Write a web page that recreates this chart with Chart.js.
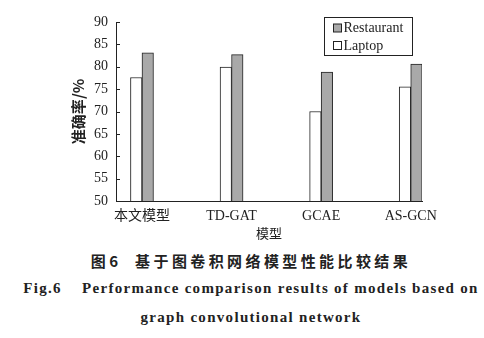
<!DOCTYPE html>
<html>
<head>
<meta charset="utf-8">
<script src="https://cdn.jsdelivr.net/npm/chart.js@4"></script>
<style>
  body { margin: 0; background: #fff; width: 484px; height: 338px; overflow: hidden; }
  #wrap { position: relative; width: 484px; height: 245px; }
  .cap { position: absolute; left: 9px; width: 484px; text-align: center; color: #222; white-space: pre; }
  #cap1 { top: 250px; font: bold 15px "Noto Sans CJK SC"; letter-spacing: 3.4px; }
  #cap2 { top: 280px; font: bold 15px "Liberation Serif"; letter-spacing: 1.3px; }
  #cap3 { top: 309px; font: bold 15px "Liberation Serif"; letter-spacing: 1.3px; }
</style>
</head>
<body>
<div id="wrap"><canvas id="chart"></canvas></div>
<div class="cap" id="cap1">图6  基于图卷积网络模型性能比较结果</div>
<div class="cap" id="cap2">Fig.6    Performance comparison results of models based on</div>
<div class="cap" id="cap3">graph convolutional network</div>
<script>
const categories = ["本文模型", "TD-GAT", "GCAE", "AS-GCN"];
const laptop = [77.6, 79.9, 70.0, 75.5];
const restaurant = [83.1, 82.7, 78.8, 80.6];
const yTicks = [50, 55, 60, 65, 70, 75, 80, 85, 90];

const serif = "Liberation Serif";

// ticks on the y axis point inwards
const innerTicks = {
  id: "innerTicks",
  afterDraw(chart) {
    const ctx = chart.ctx;
    const y = chart.scales.y;
    ctx.save();
    ctx.strokeStyle = "#222";
    ctx.lineWidth = 1;
    yTicks.forEach(v => {
      const py = Math.round(y.getPixelForValue(v)) + 0.5;
      ctx.beginPath();
      ctx.moveTo(y.right, py);
      ctx.lineTo(y.right + 4, py);
      ctx.stroke();
    });
    ctx.restore();
  }
};

// boxed legend, Restaurant listed first
const boxLegend = {
  id: "boxLegend",
  afterDraw(chart) {
    const ctx = chart.ctx;
    const area = chart.chartArea;
    const w = 88, h = 38;
    const x0 = Math.round(area.right - w - 10) + 0.5;
    const y0 = Math.round(area.top - 5) + 0.5;
    ctx.save();
    ctx.strokeStyle = "#222";
    ctx.lineWidth = 1;
    ctx.strokeRect(x0, y0, w, h);
    const items = chart.data.datasets.slice().reverse();
    ctx.font = "14px " + serif;
    ctx.textBaseline = "middle";
    items.forEach((ds, i) => {
      const cy = y0 + 10.5 + i * 17.5;
      ctx.fillStyle = ds.backgroundColor;
      ctx.fillRect(x0 + 9, cy - 4, 8, 8);
      ctx.strokeRect(x0 + 9, cy - 4, 8, 8);
      ctx.fillStyle = "#222";
      ctx.fillText(ds.label, x0 + 19, cy + 0.5);
    });
    ctx.restore();
  }
};

new Chart(document.getElementById("chart"), {
  type: "bar",
  data: {
    datasets: [
      {
        label: "Laptop",
        data: laptop.map((v, i) => ({ x: i, y: v })),
        backgroundColor: "#ffffff",
        borderColor: "#222",
        borderWidth: 1,
        barThickness: 11.5
      },
      {
        label: "Restaurant",
        data: restaurant.map((v, i) => ({ x: i, y: v })),
        backgroundColor: "#a9a9a9",
        borderColor: "#222",
        borderWidth: 1,
        barThickness: 11.5
      }
    ]
  },
  options: {
    responsive: true,
    maintainAspectRatio: false,
    animation: false,
    layout: { padding: { left: 0, right: 62, top: 22, bottom: 0 } },
    plugins: { legend: { display: false }, tooltip: { enabled: false } },
    scales: {
      x: {
        type: "linear",
        offset: false,
        min: -0.29,
        max: 3.126,
        afterFit: s => { s.height = 44; },
        afterBuildTicks: s => { s.ticks = categories.map((c, i) => ({ value: i })); },
        grid: { display: false, drawTicks: false },
        border: { color: "#222", width: 1 },
        ticks: {
          autoSkip: false,
          maxRotation: 0,
          padding: 7,
          color: "#222",
          font: { family: serif + ", Noto Sans CJK SC", size: 14 },
          callback: v => categories[v]
        },
        title: {
          display: true,
          text: "模型",
          color: "#222",
          font: { family: "Noto Sans CJK SC", size: 13 },
          padding: { top: 0, bottom: 4 }
        }
      },
      y: {
        min: 50,
        max: 90,
        afterFit: s => { s.width = 116; },
        afterBuildTicks: s => { s.ticks = yTicks.map(v => ({ value: v })); },
        grid: { display: false, drawTicks: false },
        border: { color: "#222", width: 1 },
        ticks: {
          padding: 8,
          color: "#222",
          font: { family: serif, size: 14 }
        },
        title: {
          display: true,
          text: "准确率/%",
          color: "#222",
          font: { family: "Noto Sans CJK SC", size: 15, weight: "bold" },
          padding: { top: 69, bottom: 0 }
        }
      }
    }
  },
  plugins: [innerTicks, boxLegend]
});
</script>
</body>
</html>
